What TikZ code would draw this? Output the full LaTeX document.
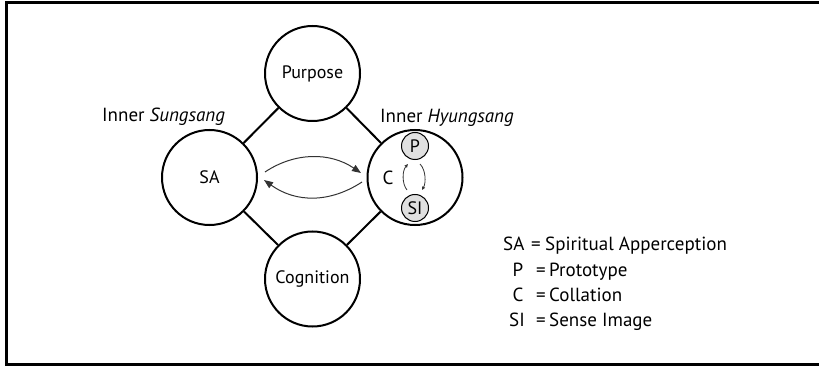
\documentclass[tikz,border=0pt]{standalone}
\usepackage{fontspec}
\setmainfont{PT Sans}
\usetikzlibrary{arrows.meta}
\begin{document}
\begin{tikzpicture}[x=1pt,y=-1pt,
  bigc/.style={circle,draw=black,line width=2pt,minimum size=95pt,inner sep=0pt,font=\fontsize{18}{20}\selectfont},
  smallc/.style={circle,draw=black,fill=black!12,line width=1pt,minimum size=27pt,inner sep=0pt,font=\fontsize{18}{20}\selectfont},
  link/.style={line width=2pt},
  flow/.style={draw=black!80,line width=1pt,-{Triangle[length=9pt,width=7pt]}},
  miniflow/.style={draw=black!80,line width=0.8pt,-{Triangle[length=3.5pt,width=3pt]}},
  txt/.style={font=\fontsize{19}{22}\selectfont,inner sep=0pt,anchor=base west},
  txtc/.style={font=\fontsize{19}{22}\selectfont,inner sep=0pt,anchor=base},
]
\useasboundingbox (0,0) rectangle (819,366);
\draw[line width=3pt] (819,3) -- (6,3) -- (6,364) -- (819,364);

\node[bigc] (pur) at (312.5,73.5) {Purpose};
\node[bigc] (sa) at (209.5,177.5) {SA};
\node[bigc] (hy) at (415,177.5) {};
\node[bigc] (cog) at (312.5,279) {Cognition};

\draw[link] (pur) -- (sa);
\draw[link] (pur) -- (hy);
\draw[link] (cog) -- (sa);
\draw[link] (cog) -- (hy);

\node[smallc] (p) at (415,146) {P};
\node[smallc] (si) at (415,208) {SI};
\node[font=\fontsize{19}{20}\selectfont,inner sep=0pt] (c) at (388,178) {C};

\node[txt] (lsung) at (102,122) {Inner \textit{Sungsang}};
\node[txt] (lhyung) at (380,123) {Inner \textit{Hyungsang}};

% big arrows
\coordinate (u1) at (265,172);
\coordinate (u2) at (361,173);
\coordinate (l1) at (362,182);
\coordinate (l2) at (264,180);
\draw[flow] (u1) .. controls (295,152) and (330,152) .. (u2);
\draw[flow] (l1) .. controls (330,203) and (296,203) .. (l2);

% small arrows
\coordinate (a1) at (407,190);
\coordinate (a2) at (408,164);
\coordinate (b1) at (420,164);
\coordinate (b2) at (422,190);
\draw[miniflow] (a1) .. controls (402,184) and (402,171) .. (a2);
\draw[miniflow] (b1) .. controls (426,170) and (426,183) .. (b2);

% legend
\node[txt] (k1) at (503,251) {SA};
\node[txtc] (e1) at (536,251) {=};
\node[txt] (v1) at (545,251) {Spiritual Apperception};
\node[txtc] (k2) at (518,276) {P};
\node[txtc] (e2) at (541,276) {=};
\node[txt] (v2) at (549,276) {Prototype};
\node[txtc] (k3) at (518,301) {C};
\node[txtc] (e3) at (541,301) {=};
\node[txt] (v3) at (549,301) {Collation};
\node[txtc] (k4) at (517,326) {SI};
\node[txtc] (e4) at (541,326) {=};
\node[txt] (v4) at (549,326) {Sense Image};
\end{tikzpicture}
\end{document}
